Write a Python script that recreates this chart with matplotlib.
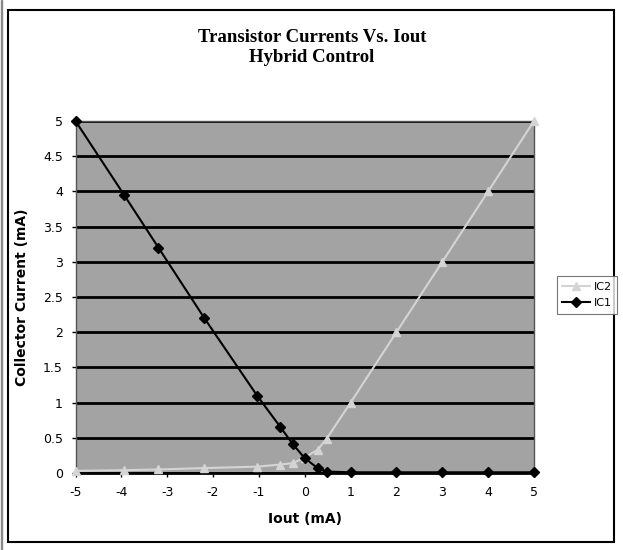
import matplotlib
matplotlib.use('Agg')
import matplotlib.pyplot as plt
from matplotlib.patches import Rectangle

# collector currents (mA) versus output current (mA)
iout = [-5, -3.94, -3.19, -2.19, -1.04, -0.54, -0.26, 0.0, 0.28, 0.48, 1, 2, 3, 4, 5]
ic1 = [5.0, 3.95, 3.2, 2.2, 1.1, 0.66, 0.41, 0.21, 0.07, 0.02, 0.01, 0.01, 0.01, 0.01, 0.01]
ic2 = [0.03, 0.04, 0.05, 0.07, 0.09, 0.12, 0.14, 0.22, 0.33, 0.49, 1.0, 2.0, 3.0, 4.0, 5.0]

x_ticks = [-5, -4, -3, -2, -1, 0, 1, 2, 3, 4, 5]
y_ticks = [0, 0.5, 1, 1.5, 2, 2.5, 3, 3.5, 4, 4.5, 5]

fig = plt.figure(figsize=(6.23, 5.5), dpi=100)
ax = fig.add_axes([75.5 / 623, 1 - 473 / 550, (534 - 75.5) / 623, (473 - 121) / 550])

# outer chart frame
fig.patches.append(Rectangle((8 / 623, 8 / 550), 606 / 623, 532 / 550, transform=fig.transFigure,
                             fill=False, edgecolor='black', linewidth=1.5))
fig.patches.append(Rectangle((1 / 623, 0), 0.001, 1, transform=fig.transFigure,
                             fill=False, edgecolor='#888888', linewidth=1))

ax.set_facecolor('#a3a3a3')
ax.set_xlim(-5, 5)
ax.set_ylim(0, 5)
ax.set_xticks(x_ticks)
ax.set_yticks(y_ticks)
ax.set_xticklabels([str(t) for t in x_ticks])
ax.set_yticklabels(['%g' % t for t in y_ticks])
ax.grid(axis='y', color='black', linewidth=2)
ax.set_axisbelow(True)
for side in ['top', 'right', 'left']:
    ax.spines[side].set_color('#555555')
    ax.spines[side].set_linewidth(1)
ax.spines['bottom'].set_linewidth(2)
ax.tick_params(axis='both', labelsize=9, length=3, width=1, direction='out', pad=6)

ax.plot(iout, ic2, color='#d4d4d4', marker='^', markersize=6, linewidth=1.5, label='IC2',
        clip_on=False, zorder=3)
ax.plot(iout, ic1, color='black', marker='D', markersize=5.5, linewidth=1.5, label='IC1',
        clip_on=False, zorder=4)

ax.set_xlabel('Iout (mA)', fontsize=10, fontweight='bold', labelpad=10)
ax.set_ylabel('Collector Current (mA)', fontsize=10, fontweight='bold', labelpad=10)

fig.text(312 / 623, 1 - 37 / 550, 'Transistor Currents Vs. Iout', ha='center', va='center',
         family='Liberation Serif', fontweight='bold', fontsize=13.5)
fig.text(312 / 623, 1 - 58 / 550, 'Hybrid Control', ha='center', va='center',
         family='Liberation Serif', fontweight='bold', fontsize=13.5)

leg = fig.legend(loc='center', bbox_to_anchor=(587 / 623, 1 - 295 / 550), fontsize=8,
                 frameon=True, fancybox=False, edgecolor='#555555', handlelength=2.5,
                 borderpad=0.5, labelspacing=0.6, handletextpad=0.3, borderaxespad=0)
leg.get_frame().set_linewidth(0.8)

fig.savefig('out.png', dpi=100, facecolor='white')
